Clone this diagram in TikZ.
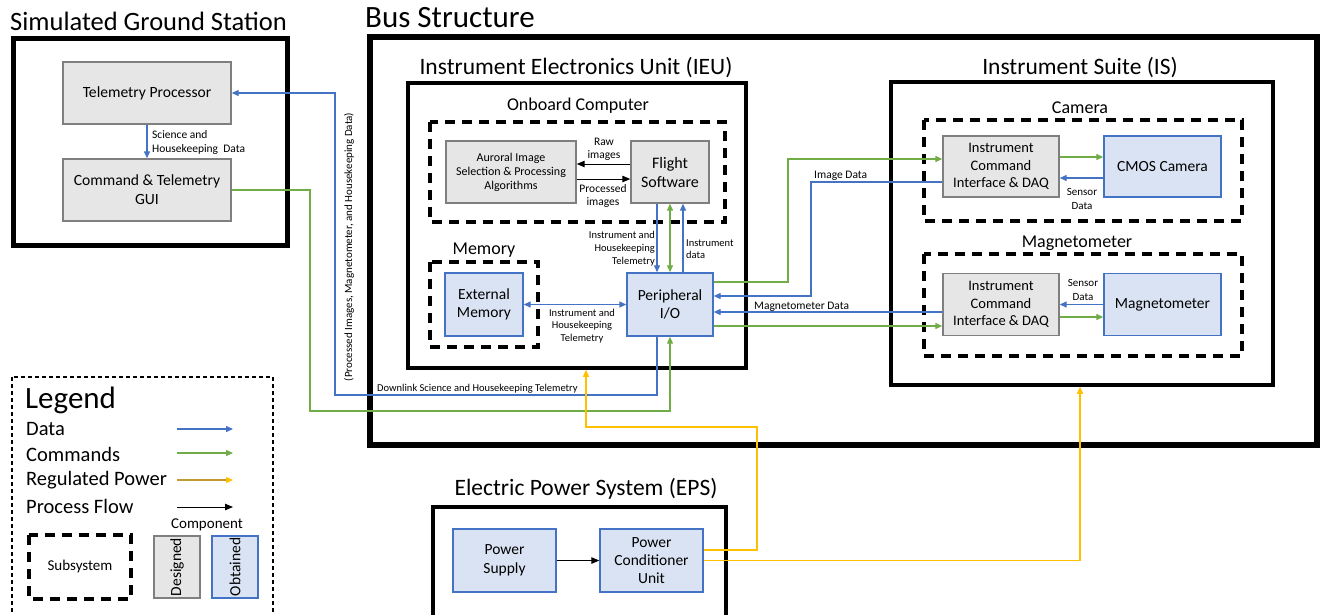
\documentclass[tikz,border=0pt]{standalone}
\usepackage{fontspec}
\setmainfont{Carlito}
\usetikzlibrary{arrows.meta}
\definecolor{dblue}{HTML}{4472C4}
\definecolor{cgreen}{HTML}{70AD47}
\definecolor{pyellow}{HTML}{FFC000}
\definecolor{pgold}{HTML}{BF9B30}
\definecolor{gfill}{HTML}{E7E6E6}
\definecolor{gline}{HTML}{7F7F7F}
\definecolor{bfill}{HTML}{DAE3F3}
\definecolor{bline}{HTML}{4472C4}
\newcommand{\fs}[2]{\fontsize{#1}{#2}\selectfont}
\begin{document}
\begin{tikzpicture}[x=1pt,y=-1pt,
  sysbox/.style={draw=black, line width=3.5pt, inner sep=0pt},
  subsys/.style={draw=black, line width=3.5pt, dash pattern=on 10pt off 7pt},
  designed/.style={draw=gline, fill=gfill, line width=1.4pt, align=center, inner sep=1pt},
  obtained/.style={draw=bline, fill=bfill, line width=1.4pt, align=center, inner sep=1pt},
  tip/.style={-{Triangle[length=7pt,width=6pt]}},
  data/.style={draw=dblue, line width=1.3pt, tip},
  cmd/.style={draw=cgreen, line width=1.3pt, tip},
  cmdboth/.style={draw=cgreen, line width=1.3pt, {Triangle[length=7pt,width=6pt]}-{Triangle[length=7pt,width=6pt]}},
  databoth/.style={draw=dblue, line width=1.3pt, {Triangle[length=7pt,width=6pt]}-{Triangle[length=7pt,width=6pt]}},
  pwr/.style={draw=pyellow, line width=1.3pt, tip},
  flow/.style={draw=black, line width=1pt, -{Triangle[length=8pt,width=6.5pt]}},
  lbl/.style={font=\fs{11.5}{13.5}, inner sep=0pt, align=center},
  title/.style={font=\fs{23.5}{28}, inner sep=0pt},
  subtitle/.style={font=\fs{18}{21}, inner sep=0pt},
  legtext/.style={font=\fs{20.5}{24}, inner sep=0pt, anchor=west}
]
\useasboundingbox (0,0) rectangle (1322,614);
\clip (0,0) rectangle (1322,614);

% ---------- containers ----------
\node[sysbox, line width=5pt, minimum width=274, minimum height=207] (gs) at (150,141.5) {};
\node[font=\fs{26.5}{30}, inner sep=0pt, anchor=west] (gstitle) at (10,21) {Simulated Ground Station};

\node[sysbox, line width=6.5pt, minimum width=947, minimum height=408] (bus) at (843.5,241) {};
\node[font=\fs{31}{36}, inner sep=0pt, anchor=west] (bustitle) at (365,18) {Bus Structure};

\node[sysbox, minimum width=338, minimum height=285] (ieu) at (577,225.5) {};
\node[title] (ieutitle) at (576,68) {Instrument Electronics Unit (IEU)};

\node[sysbox, minimum width=382, minimum height=303] (is) at (1082,233.5) {};
\node[title] (istitle) at (1080,68) {Instrument Suite (IS)};

\node[sysbox, minimum width=293, minimum height=133] (eps) at (579.5,573.5) {};
\node[title] (epstitle) at (586,489) {Electric Power System (EPS)};

% ---------- dashed subsystems ----------
\draw[subsys] (430,122) rectangle (725,222);
\node[subtitle] (obctitle) at (578,106) {Onboard Computer};
\draw[subsys] (430,262) rectangle (538,347);
\node[subtitle] (memtitle) at (484,250) {Memory};
\draw[subsys] (924,120) rectangle (1242,221);
\node[subtitle] (camtitle) at (1080,108) {Camera};
\draw[subsys] (924,254) rectangle (1242,356);
\node[subtitle] (magtitle) at (1077,243) {Magnetometer};

% ---------- components ----------
\node[designed, minimum width=168, minimum height=62, font=\fs{15.6}{19}] (tp) at (147,93) {Telemetry Processor};
\node[designed, minimum width=168, minimum height=62, font=\fs{15.6}{19}] (gui) at (147,190) {Command \& Telemetry\\GUI};

\node[designed, minimum width=130, minimum height=62, font=\fs{12}{14}] (aur) at (511,172) {Auroral Image\\Selection \& Processing\\Algorithms};
\node[designed, minimum width=78, minimum height=62, font=\fs{16}{19}] (fsw) at (670,172) {Flight\\Software};
\node[obtained, minimum width=78, minimum height=63, font=\fs{15.5}{18.5}] (mem) at (484,304.5) {External\\Memory};
\node[obtained, minimum width=86, minimum height=63, font=\fs{15.5}{18.5}] (pio) at (670,304.5) {Peripheral\\I/O};

\node[designed, minimum width=116, minimum height=61, font=\fs{14.5}{17.3}] (icic) at (1001,166.5) {Instrument\\Command\\Interface \& DAQ};
\node[obtained, minimum width=117, minimum height=61, font=\fs{15.5}{18.5}] (cmos) at (1162.5,166.5) {CMOS Camera};
\node[designed, minimum width=116, minimum height=62, font=\fs{14.5}{17.3}] (icim) at (1001,304.5) {Instrument\\Command\\Interface \& DAQ};
\node[obtained, minimum width=117, minimum height=62, font=\fs{15.5}{18.5}] (magn) at (1162.5,304.5) {Magnetometer};

\node[obtained, minimum width=103, minimum height=63, font=\fs{15.5}{19}] (ps) at (504.5,560.5) {Power\\Supply};
\node[obtained, minimum width=103, minimum height=63, font=\fs{15.5}{18.3}] (pcu) at (651.5,560.5) {Power\\Conditioner\\Unit};

% ---------- ground station links ----------
\draw[data] (tp.south) -- (gui.north);
\node[lbl, align=left, anchor=west, font=\fs{11.5}{14}] (scilbl) at (152,142) {Science and\\Housekeeping~~Data};

\draw[data, line width=1.1pt] ([xshift=-13pt]pio.south) |- (335,395) |- (tp.east);
\draw[cmd, line width=1.1pt] (gui.east) -| (310,411) -| (pio.south);
\node[lbl, rotate=90, font=\fs{11}{13}] (downvert) at (349,247) {(Processed Images, Magnetometer, and Housekeeping Data)};
\node[lbl, anchor=west, font=\fs{10.5}{12}] (downlbl) at (377,389) {Downlink Science and Housekeeping Telemetry};

% ---------- onboard computer ----------
\draw[flow] ([yshift=8pt]fsw.west) -- ([yshift=8pt]aur.east);
\draw[flow] ([yshift=-7pt]aur.east) -- ([yshift=-7pt]fsw.west);
\node[lbl] (rawlbl) at (604,149.5) {Raw\\images};
\node[lbl] (proclbl) at (603,196) {Processed\\images};

\draw[data] ([xshift=-13pt]fsw.south) -- ([xshift=-13pt]pio.north);
\draw[cmdboth] (fsw.south) -- (pio.north);
\draw[data] ([xshift=13pt]pio.north) -- ([xshift=13pt]fsw.south);
\node[lbl, align=right, anchor=east, font=\fs{10.5}{13}] (telm1) at (655,249) {Instrument and\\Housekeeping\\Telemetry};
\node[lbl, align=left, anchor=west, font=\fs{10.5}{12.5}] (instd) at (686,249) {Instrument\\data};

\draw[databoth] (mem.east) -- (pio.west);
\node[lbl, font=\fs{10.5}{12.5}] (telm2) at (582,326) {Instrument and\\Housekeeping\\Telemetry};

% ---------- instrument links ----------
\draw[cmd] ([yshift=22.5pt]pio.east) -| (788,159) -- ([yshift=7.5pt]icic.west);
\draw[data] ([yshift=-15.5pt]icic.west) -| (811,296) -- ([yshift=8.5pt]pio.east);
\node[lbl, anchor=west] (imglbl) at (814,176) {Image Data};
\draw[data] ([yshift=-7.5pt]icim.west) -- ([yshift=-7.5pt]pio.east);
\node[lbl, anchor=west] (maglbl) at (754,307) {Magnetometer Data};
\draw[cmd] ([yshift=-21.5pt]pio.east) -- ([yshift=-21.5pt]icim.west);

\draw[cmd] ([yshift=9.5pt]icic.east) -- ([yshift=9.5pt]cmos.west);
\draw[data] ([yshift=-11.5pt]cmos.west) -- ([yshift=-11.5pt]icic.east);
\node[lbl, font=\fs{11}{14}] (sens1) at (1082,199) {Sensor\\Data};
\draw[data] (magn.west) -- (icim.east);
\draw[cmd] ([yshift=-12.5pt]icim.east) -- ([yshift=-12.5pt]magn.west);
\node[lbl, font=\fs{11}{14}] (sens2) at (1083,290) {Sensor\\Data};

% ---------- power ----------
\draw[flow] (ps.east) -- (pcu.west);
\draw[pwr] ([yshift=10.5pt]pcu.east) -| (757,427) -| ([xshift=9pt]ieu.south);
\draw[pwr] (pcu.east) -| ([xshift=-2pt]is.south);

% ---------- legend ----------
\draw[line width=1.3pt, dash pattern=on 4pt off 3pt] (12,377) rectangle (273,630);
\node[font=\fs{31}{36}, inner sep=0pt, anchor=west] (legtitle) at (25,400) {Legend};
\node[legtext] (lgdata) at (26,429) {Data};
\node[legtext] (lgcmd) at (26,454) {Commands};
\node[legtext] (lgpwr) at (26,480) {Regulated Power};
\node[legtext] (lgflow) at (26,506) {Process Flow};
\coordinate (ld0) at (177,429); \coordinate (ld1) at (233,429);
\coordinate (lc0) at (177,453); \coordinate (lc1) at (233,453);
\coordinate (lp0) at (177,480); \coordinate (lp1) at (233,480);
\coordinate (lf0) at (177,507); \coordinate (lf1) at (233,507);
\draw[data] (ld0) -- (ld1);
\draw[cmd] (lc0) -- (lc1);
\draw[draw=pgold, line width=1.3pt, -{Triangle[length=7pt,width=6pt,color=pyellow]}] (lp0) -- (lp1);
\draw[flow] (lf0) -- (lf1);
\node[font=\fs{15}{18}, inner sep=0pt] (complbl) at (207,525) {Component};
\draw[subsys] (29,535) rectangle (131,599);
\node[font=\fs{15}{18}, inner sep=0pt] (sublbl) at (80,566) {Subsystem};
\node[designed, minimum width=46, minimum height=62, font=\fs{15.5}{18}] (lgdes) at (177,567) {\rotatebox{90}{Designed}};
\node[obtained, minimum width=46, minimum height=62, font=\fs{15.5}{18}] (lgobt) at (235,567) {\rotatebox{90}{Obtained}};
\end{tikzpicture}
\end{document}
